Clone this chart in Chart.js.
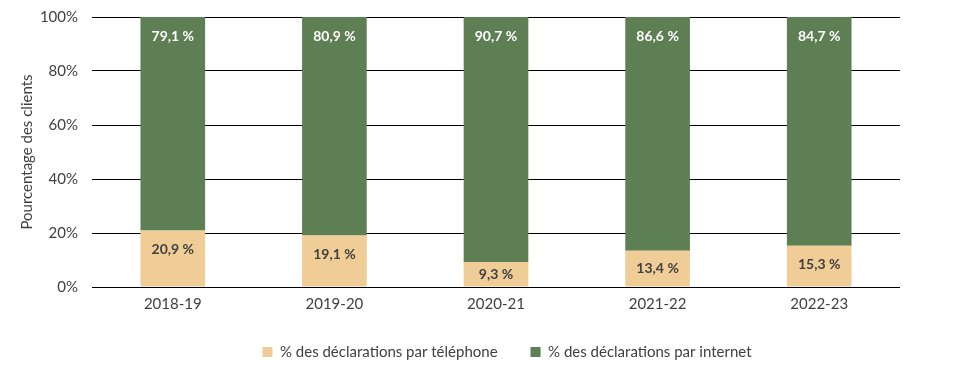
<!DOCTYPE html>
<html lang="fr">
<head>
  <meta charset="UTF-8" />
  <title>Pourcentage des clients</title>
  <script src="https://cdn.jsdelivr.net/npm/chart.js"></script>
  <style>
    html, body { margin: 0; padding: 0; background: #fff; }
    .wrap { width: 964px; height: 369px; }
  </style>
</head>
<body>
  <div class="wrap"><canvas id="chart"></canvas></div>
  <script>
    const annees = ['2018-19', '2019-20', '2020-21', '2021-22', '2022-23'];
    const telephone = [20.9, 19.1, 9.3, 13.4, 15.3];
    const internet = [79.1, 80.9, 90.7, 86.6, 84.7];
    const yTicks = [0, 20, 40, 60, 80, 100];

    const FONT = 'Lato, "Open Sans", sans-serif';

    // étiquettes dans les barres, près du haut (comme Excel "bout intérieur")
    const etiquettes = {
      id: 'etiquettes',
      afterDatasetsDraw(chart) {
        const ctx = chart.ctx;
        ctx.save();
        ctx.font = 'bold 14px ' + FONT;
        ctx.textAlign = 'center';
        ctx.textBaseline = 'middle';
        chart.data.datasets.forEach((ds, i) => {
          chart.getDatasetMeta(i).data.forEach((bar, j) => {
            const p = bar.getProps(['x', 'y', 'base'], true);
            const h = p.base - p.y;
            const y = p.y + Math.min(19, h / 2);
            ctx.fillStyle = i === 0 ? '#404040' : '#ffffff';
            ctx.fillText(ds.data[j].toFixed(1).replace('.', ',') + ' %', p.x, y);
          });
        });
        ctx.restore();
      }
    };

    // légende : hauteur fixe et petit décalage (centrée sous la zone de tracé)
    const placeLegende = {
      id: 'placeLegende',
      beforeInit(chart) {
        const lg = chart.legend;
        if (!lg) return;
        const fit = lg.fit.bind(lg);
        const draw = lg.draw.bind(lg);
        lg.fit = function () { fit(); this.height = 50; };
        lg.draw = function () {
          const t = this.top, l = this.left, r = this.right;
          this.top = t - 7.5; this.left = l + 50; this.right = r + 50;
          draw();
          this.top = t; this.left = l; this.right = r;
        };
      }
    };

    new Chart(document.getElementById('chart'), {
      type: 'bar',
      data: {
        labels: annees,
        datasets: [
          { label: '% des déclarations par téléphone', data: telephone, backgroundColor: '#F0CD96', barPercentage: 0.4, categoryPercentage: 1 },
          { label: '% des déclarations par internet', data: internet, backgroundColor: '#5E7E53', barPercentage: 0.4, categoryPercentage: 1 }
        ]
      },
      options: {
        responsive: true,
        maintainAspectRatio: false,
        animation: false,
        layout: { padding: { top: 17, right: 64, left: 14, bottom: 0 } },
        plugins: {
          legend: {
            position: 'bottom',
            labels: { boxWidth: 10, boxHeight: 10, padding: 33, color: '#404040', font: { family: FONT, size: 15 } }
          },
          tooltip: { enabled: false }
        },
        scales: {
          x: {
            stacked: true,
            grid: { display: false },
            border: { display: false },
            afterFit: s => { s.height = 32; },
            ticks: { color: '#404040', padding: 0, font: { family: FONT, size: 15 } }
          },
          y: {
            stacked: true,
            min: 0,
            max: 100,
            afterBuildTicks: s => { s.ticks = yTicks.map(v => ({ value: v })); },
            afterFit: s => { s.width = 78; s.paddingTop = 0; s.paddingBottom = 0; },
            grid: { color: '#000', lineWidth: 1, drawTicks: false },
            border: { display: false },
            ticks: { color: '#404040', padding: 14, font: { family: FONT, size: 15 }, callback: v => v + '%' },
            title: { display: true, text: 'Pourcentage des clients', color: '#404040', font: { family: FONT, size: 15 } }
          }
        }
      },
      plugins: [etiquettes, placeLegende]
    });
  </script>
</body>
</html>
